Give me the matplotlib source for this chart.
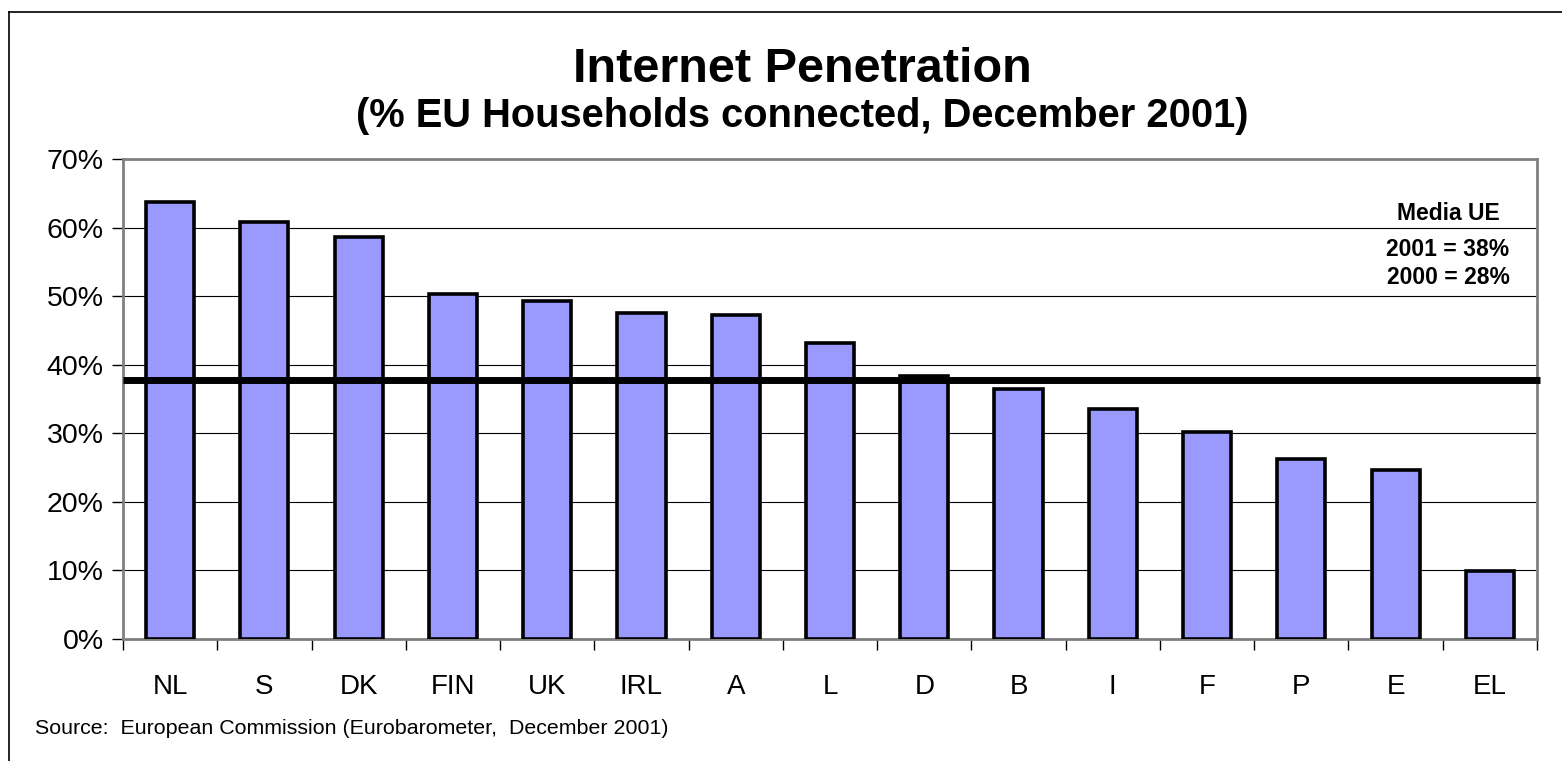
import matplotlib
matplotlib.use('Agg')
import matplotlib.pyplot as plt
from matplotlib.lines import Line2D
from matplotlib.ticker import FuncFormatter, MultipleLocator

plt.rcParams['font.family'] = ['Liberation Sans', 'DejaVu Sans']

# Dati
countries = ['NL', 'S', 'DK', 'FIN', 'UK', 'IRL', 'A', 'L', 'D', 'B', 'I', 'F', 'P', 'E', 'EL']
penetration = [63.8, 60.8, 58.6, 50.3, 49.3, 47.6, 47.2, 43.1, 38.4, 36.4, 33.5, 30.2, 26.2, 24.7, 9.9]
eu_average = 37.8
avg_labels = ['Media UE', '2001 = 38%', '2000 = 28%']

W, H = 1562, 761
fig = plt.figure(figsize=(W / 100, H / 100), dpi=100)
ax = fig.add_axes([123 / W, 1 - 639 / H, (1537 - 123) / W, (639 - 159) / H])

x = list(range(len(countries)))
ax.bar(x, penetration, width=0.51, color='#9999FF', edgecolor='black', linewidth=2.6, zorder=3)

# Linea media UE (spessa)
ax.plot([-0.5, len(countries) - 0.5 + 0.03], [eu_average, eu_average], color='black',
        linewidth=5, solid_capstyle='butt', zorder=4, clip_on=False)

ax.set_xlim(-0.5, len(countries) - 0.5)
ax.set_ylim(0, 70)
ax.yaxis.set_major_locator(MultipleLocator(10))
ax.yaxis.set_major_formatter(FuncFormatter(lambda v, p: f'{v:.0f}%'))
ax.grid(axis='y', color='black', linewidth=0.8, zorder=1)

# Tacche x tra le categorie
ax.set_xticks([i + 0.5 for i in range(-1, len(countries))], minor=False)
ax.set_xticklabels([])
ax.set_xticks(x, minor=True)
ax.set_xticklabels(countries, minor=True)
ax.tick_params(axis='x', which='minor', length=0, pad=25, labelsize=20)
ax.tick_params(axis='x', which='major', length=8, width=1, color='black')
ax.tick_params(axis='y', length=8, width=1, color='black', labelsize=20.5, pad=6)

for s in ax.spines.values():
    s.set_color('#808080')
    s.set_linewidth(2)

# Testi
fig.text(802 / W, 1 - 82 / H, 'Internet Penetration', ha='center', va='baseline',
         fontsize=35, fontweight='bold')
fig.text(802 / W, 1 - 127 / H, '(% EU Households connected, December 2001)', ha='center',
         va='baseline', fontsize=28.7, fontweight='bold')
fig.text(35 / W, 1 - 729 / H, 'Source:  European Commission (Eurobarometer,  December 2001)',
         ha='left', va='center', fontsize=15.4)

for lbl, yy in zip(avg_labels, [213, 249, 277]):
    fig.text(1448 / W, 1 - yy / H, lbl, ha='center', va='center', fontsize=16.5, fontweight='bold')

# Cornice della figura
fig.add_artist(Line2D([9 / W, 9 / W], [0, 1 - 12 / H], color='black', linewidth=1.2))
fig.add_artist(Line2D([9 / W, 1], [1 - 12 / H, 1 - 12 / H], color='black', linewidth=1.2))

fig.savefig('out.png', dpi=100)
